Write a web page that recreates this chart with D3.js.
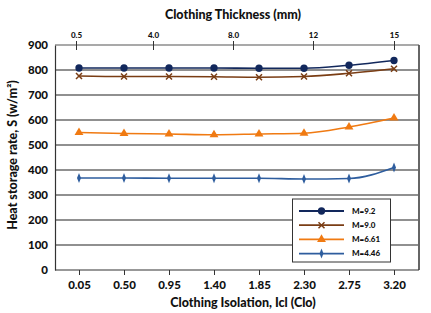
<!DOCTYPE html>
<html><head><meta charset="utf-8">
<script src="https://cdn.jsdelivr.net/npm/d3@7/dist/d3.min.js"></script>
<style>body{margin:0;background:#fff}svg{display:block}text{font-family:Lato,"Open Sans",sans-serif;font-weight:900;fill:#111}</style>
</head><body><svg id="c" width="431" height="313"></svg>
<script>
const clo = [0.05, 0.50, 0.95, 1.40, 1.85, 2.30, 2.75, 3.20];
const cloLabels = ["0.05","0.50","0.95","1.40","1.85","2.30","2.75","3.20"];
const thicknessTicks = [0.5, 4.0, 8.0, 12, 15];
const thicknessLabels = ["0.5","4.0","8.0","12","15"];
const thicknessAtClo = [0.02, 0.79, 1.59, 2.39, 3.20];
const yTicks = [0,100,200,300,400,500,600,700,800,900];
const seriesNames = ["M=9.2","M=9.0","M=6.61","M=4.46"];
const m92  = [808, 808, 808, 808, 807, 807, 819, 838];
const m90  = [776, 774, 774, 773, 771, 774, 787, 805];
const m661 = [550, 546, 544, 541, 544, 547, 572, 608];
const m446 = [368, 368, 367, 367, 367, 364, 366, 410];

const series = [
  {name: seriesNames[0], values: m92,  color: "#12285c", marker: "circle"},
  {name: seriesNames[1], values: m90,  color: "#7a3d14", marker: "x"},
  {name: seriesNames[2], values: m661, color: "#f07a12", marker: "triangle"},
  {name: seriesNames[3], values: m446, color: "#2e5d9e", marker: "diamond"}
];

const svg = d3.select("#c");
const L = 55, R = 419, T = 45, B = 270;
const x = d3.scaleLinear().domain([0.05, 3.20]).range([79, 394]);
const y = d3.scaleLinear().domain([0, 900]).range([B, T]);
const xTop = d3.scaleLinear().domain(thicknessTicks).range(thicknessAtClo.map(v => x(v)));

// gridlines
svg.append("g").selectAll("line").data(yTicks.filter(v => v > 0 && v < 900)).join("line")
  .attr("x1", L).attr("x2", R).attr("y1", d => y(d)).attr("y2", d => y(d))
  .attr("stroke", "#222").attr("stroke-width", 1.1);

// frame: right border gray
svg.append("line").attr("x1", R).attr("x2", R).attr("y1", T).attr("y2", B).attr("stroke", "#666").attr("stroke-width", 2);

// left axis
const gy = svg.append("g").attr("transform", `translate(${L},0)`)
  .call(d3.axisLeft(y).tickValues(yTicks).tickSize(0).tickPadding(7).tickFormat(d3.format("d")));
gy.select(".domain").attr("stroke", "#333").attr("stroke-width", 1.2);
gy.selectAll("text").style("font-size", "11.5px").attr("fill", "#111");

// bottom axis
const gx = svg.append("g").attr("transform", `translate(0,${B})`)
  .call(d3.axisBottom(x).tickValues(clo).tickSize(5).tickPadding(6).tickFormat((d, i) => cloLabels[i]));
gx.select(".domain").attr("d", `M${L},0H${R}`).attr("stroke", "#333").attr("stroke-width", 1.2);
gx.selectAll(".tick line").attr("stroke", "#333");
gx.selectAll("text").style("font-size", "11.5px").attr("fill", "#111");

// top axis
const gt = svg.append("g").attr("transform", `translate(0,${T})`)
  .call(d3.axisTop(xTop).tickValues(thicknessTicks).tickSize(0).tickPadding(7).tickFormat((d, i) => thicknessLabels[i]));
gt.select(".domain").attr("d", `M${L},0H${R}`).attr("stroke", "#555").attr("stroke-width", 1.2);
gt.selectAll(".tick").append("line").attr("y1", -4).attr("y2", 5).attr("stroke", "#333");
gt.selectAll("text").style("font-size", "8px").attr("fill", "#111");

// lines
const line = d3.line().x((d, i) => x(clo[i])).y(d => y(d)).curve(d3.curveMonotoneX);
const sym = {
  circle: d3.symbol().type(d3.symbolCircle).size(42),
  triangle: d3.symbol().type(d3.symbolTriangle).size(34),
};
function drawMarker(g, s, cx, cy) {
  if (s.marker === "circle" || s.marker === "triangle") {
    g.append("path").attr("d", sym[s.marker]()).attr("transform", `translate(${cx},${cy})`).attr("fill", s.color);
  } else if (s.marker === "x") {
    g.append("path").attr("d", "M-3,-3L3,3M-3,3L3,-3").attr("transform", `translate(${cx},${cy})`)
      .attr("stroke", s.color).attr("stroke-width", 1.5).attr("fill", "none");
  } else {
    g.append("path").attr("d", "M0,-5L2,0L0,5L-2,0Z").attr("transform", `translate(${cx},${cy})`).attr("fill", s.color);
  }
}
series.forEach(s => {
  svg.append("path").datum(s.values).attr("d", line).attr("fill", "none").attr("stroke", s.color).attr("stroke-width", 1.6);
  const g = svg.append("g");
  s.values.forEach((v, i) => drawMarker(g, s, x(clo[i]), y(v)));
});

// legend
const lg = svg.append("g");
lg.append("rect").attr("x", 292.5).attr("y", 199).attr("width", 98).attr("height", 63)
  .attr("fill", "#fff").attr("stroke", "#333").attr("stroke-width", 1);
series.forEach((s, i) => {
  const yy = 211 + i * 14.2;
  lg.append("line").attr("x1", 299).attr("x2", 344).attr("y1", yy).attr("y2", yy).attr("stroke", s.color).attr("stroke-width", 1.8);
  drawMarker(lg, s, 321.5, yy);
  lg.append("text").attr("x", 352).attr("y", yy).attr("dy", "0.35em").style("font-size", "8px").text(s.name);
});

// titles
svg.append("text").attr("x", 233).attr("y", 19).attr("text-anchor", "middle").style("font-size", "12.5px").text("Clothing Thickness (mm)");
svg.append("text").attr("x", 243).attr("y", 307).attr("text-anchor", "middle").style("font-size", "12.5px").text("Clothing Isolation, Icl (Clo)");
svg.append("text").attr("transform", "translate(17,155) rotate(-90)").attr("text-anchor", "middle").style("font-size", "12.5px").text("Heat storage rate, S (w/m²)");
</script></body></html>
